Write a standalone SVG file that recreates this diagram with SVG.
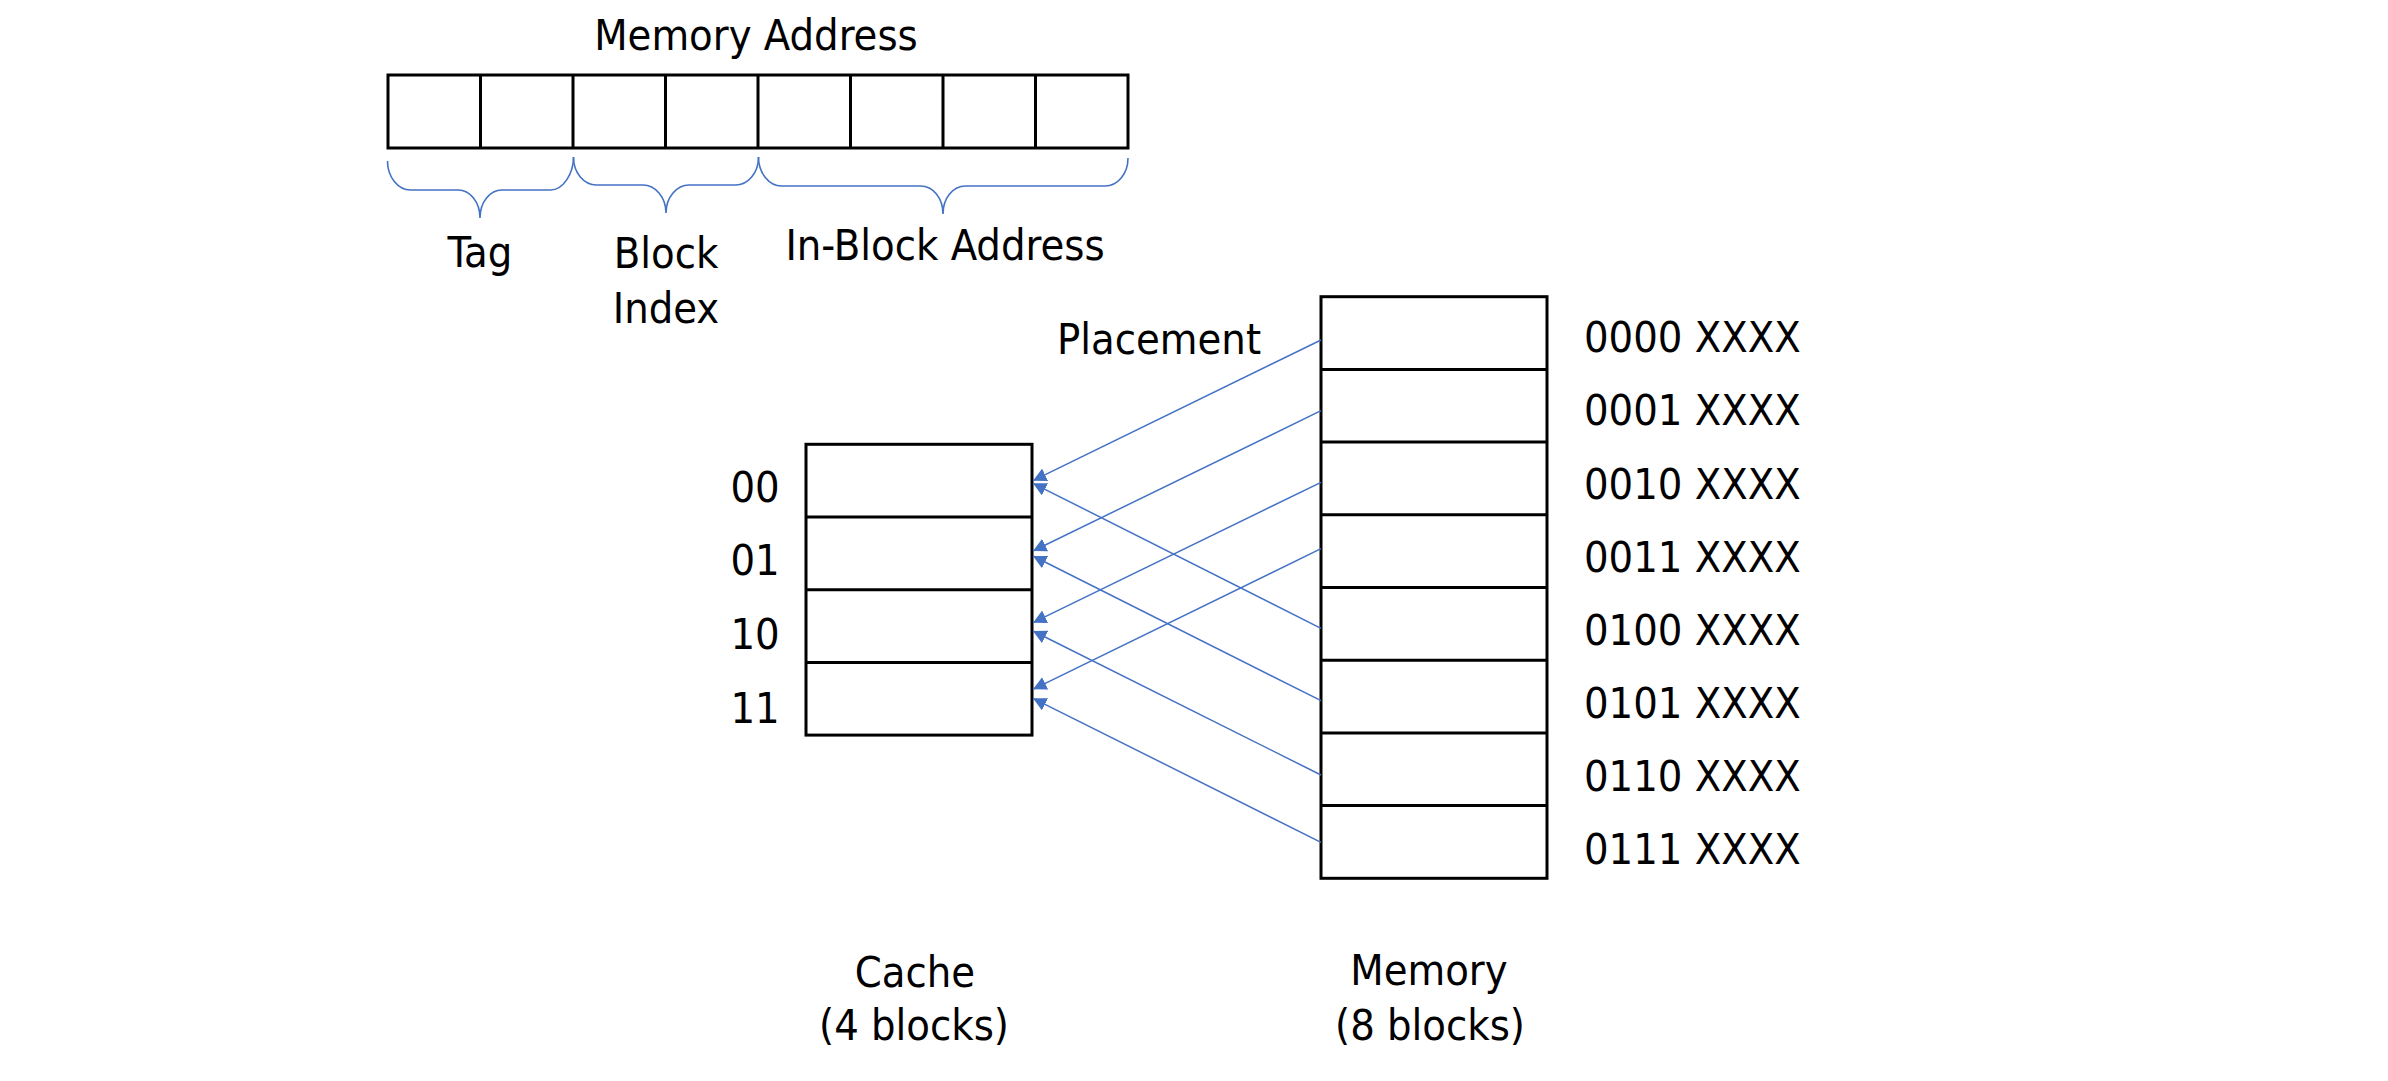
<svg xmlns="http://www.w3.org/2000/svg" width="2388" height="1081" viewBox="0 0 2388 1081">
<style>
  text { font-family: "DejaVu Sans Condensed", "DejaVu Sans", sans-serif; font-stretch: condensed; font-size: 43px; fill: #000; }
  .mid { text-anchor: middle; }
  .box { fill: #fff; stroke: #000; stroke-width: 3; }
  .div { stroke: #000; stroke-width: 3; fill: none; }
  .brace { fill: none; stroke: #4472C4; stroke-width: 1.6; }
  .conn { fill: none; stroke: #4472C4; stroke-width: 1.5; marker-end: url(#ah); }
</style>
<defs>
  <marker id="ah" markerUnits="userSpaceOnUse" markerWidth="14" markerHeight="14" refX="13.5" refY="6.9" orient="auto" viewBox="0 0 14 14">
    <path d="M0,0 L13.5,6.9 L0,13.8 z" fill="#4472C4"/>
  </marker>
</defs>
<rect width="2388" height="1081" fill="#fff"/>

<g id="memory-address">
  <text class="mid" x="756" y="50">Memory Address</text>
  <rect class="box" x="388" y="75" width="740" height="73"/>
  <path class="div" d="M480.5,75V148 M573,75V148 M665.5,75V148 M758,75V148 M850.5,75V148 M943,75V148 M1035.5,75V148"/>
</g>

<g id="braces">
  <path id="brace-tag" class="brace" d="M387.5,161 C387.5,177 398,190 410.5,190 L458,190 C470,190 480,202 480,218 C480,202 490,190 502,190 L550.5,190 C563,190 573.5,174 573.5,157"/>
  <path id="brace-index" class="brace" d="M573.5,157 C573.5,173 584,185 596.5,185 L643,185 C655,185 666,197 666,213 C666,197 677,185 689,185 L735.5,185 C748,185 758.5,173 758.5,157"/>
  <path id="brace-offset" class="brace" d="M758.5,157 C758.5,173 769,186 781.5,186 L920.5,186 C933,186 943,198 943,214 C943,198 953,186 965.5,186 L1105,186 C1117.5,186 1128,174 1128,158"/>
</g>

<g id="field-labels">
  <text class="mid" x="480" y="267">Tag</text>
  <text class="mid" x="666" y="268">Block</text>
  <text class="mid" x="666" y="323">Index</text>
  <text class="mid" x="945" y="260">In-Block Address</text>
  <text x="1057" y="354">Placement</text>
</g>

<g id="cache">
  <rect class="box" x="806" y="444.3" width="226" height="290.8"/>
  <path class="div" d="M806,517H1032 M806,589.7H1032 M806,662.4H1032"/>
  <text class="mid" x="755" y="502">00</text>
  <text class="mid" x="755" y="575">01</text>
  <text class="mid" x="755" y="649">10</text>
  <text class="mid" x="755" y="723">11</text>
  <text class="mid" x="915" y="987">Cache</text>
  <text class="mid" x="914" y="1040">(4 blocks)</text>
</g>

<g id="memory">
  <rect class="box" x="1321" y="296.7" width="226" height="581.6"/>
  <path class="div" d="M1321,369.4H1547 M1321,442.1H1547 M1321,514.8H1547 M1321,587.5H1547 M1321,660.2H1547 M1321,732.9H1547 M1321,805.6H1547"/>
  <text x="1584" y="352">0000 XXXX</text>
  <text x="1584" y="425">0001 XXXX</text>
  <text x="1584" y="498.5">0010 XXXX</text>
  <text x="1584" y="571.5">0011 XXXX</text>
  <text x="1584" y="645">0100 XXXX</text>
  <text x="1584" y="718">0101 XXXX</text>
  <text x="1584" y="791">0110 XXXX</text>
  <text x="1584" y="864">0111 XXXX</text>
  <text class="mid" x="1429" y="985">Memory</text>
  <text class="mid" x="1430" y="1040">(8 blocks)</text>
</g>

<g id="connectors">
  <line class="conn" x1="1321" y1="340" x2="1033" y2="480.7"/>
  <line class="conn" x1="1321" y1="410.7" x2="1033" y2="551"/>
  <line class="conn" x1="1321" y1="482.3" x2="1033" y2="622.7"/>
  <line class="conn" x1="1321" y1="548.7" x2="1033" y2="689.3"/>
  <line class="conn" x1="1321" y1="628.3" x2="1033" y2="483.3"/>
  <line class="conn" x1="1321" y1="700.7" x2="1033" y2="556"/>
  <line class="conn" x1="1321" y1="775" x2="1033" y2="631"/>
  <line class="conn" x1="1321" y1="842.3" x2="1033" y2="698.3"/>
</g>
</svg>
